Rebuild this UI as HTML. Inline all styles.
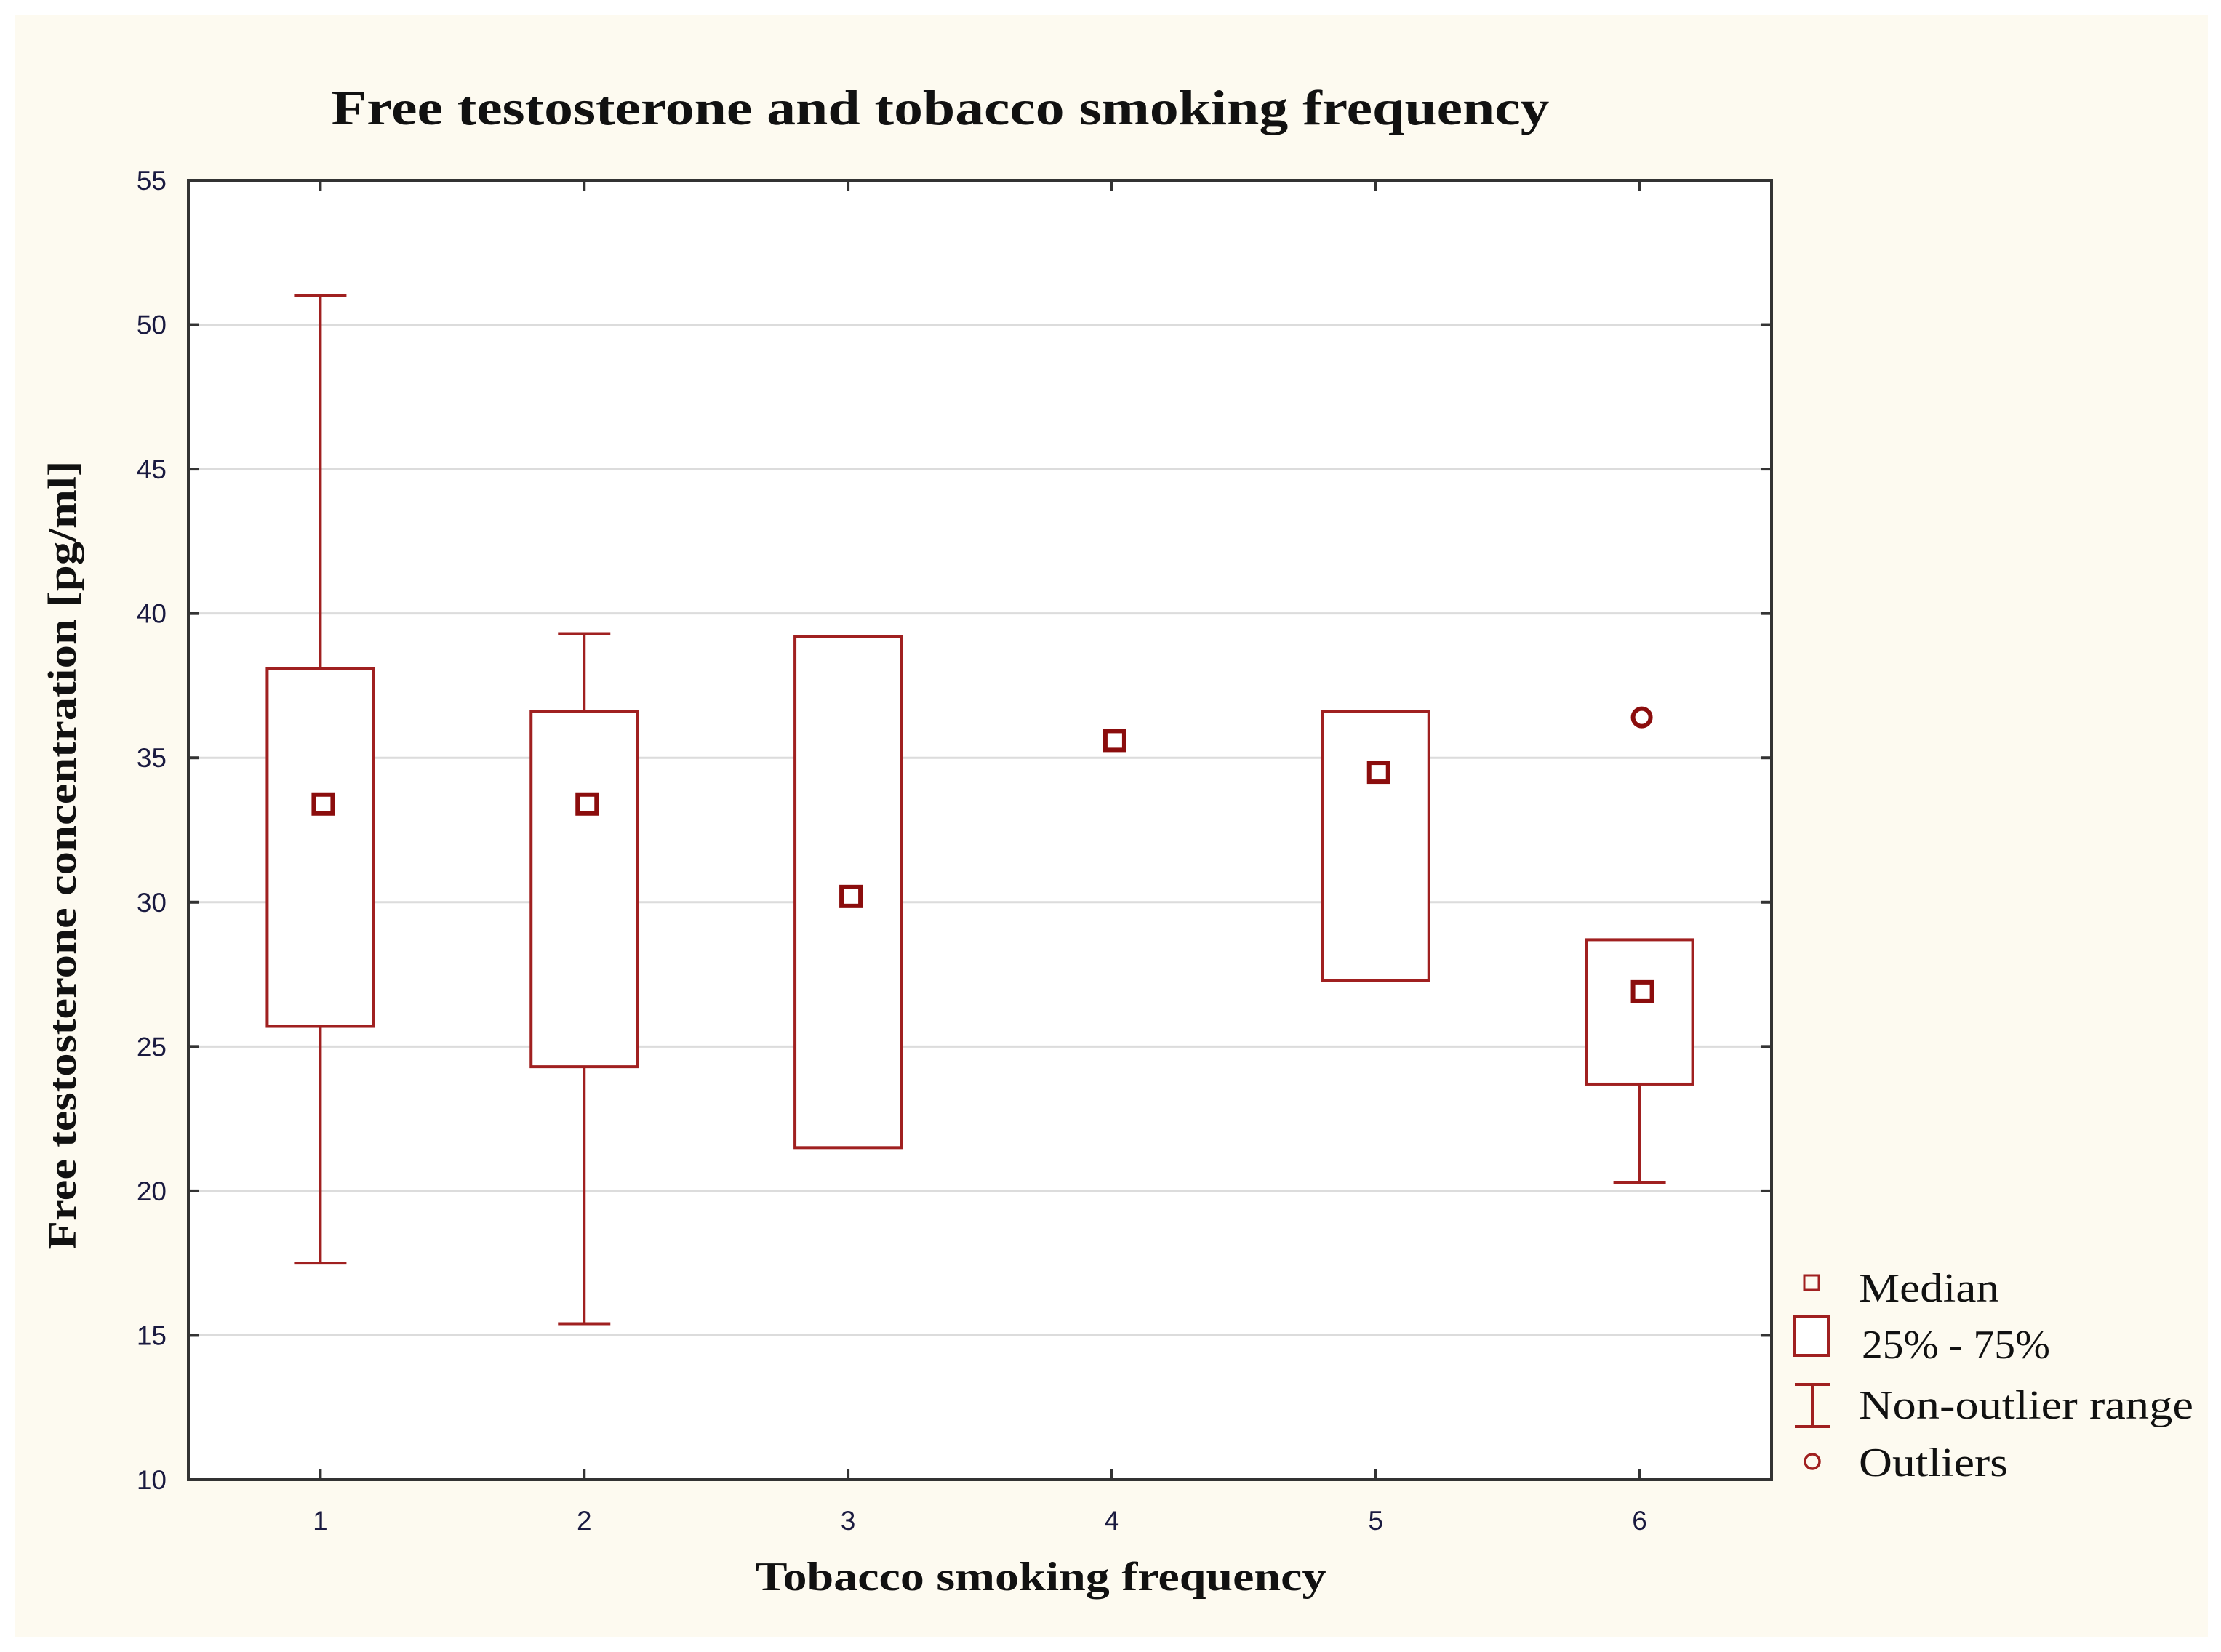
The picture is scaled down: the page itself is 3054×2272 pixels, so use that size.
<!DOCTYPE html>
<html><head><meta charset="utf-8"><style>
html,body{margin:0;padding:0;background:#fff;}
svg{display:block;}
</style></head><body>
<svg id="chart" width="3054" height="2272" viewBox="0 0 3054 2272" xmlns="http://www.w3.org/2000/svg">
<rect x="20" y="20" width="3016" height="2232" fill="#fdfaf0"/>
<rect x="259" y="248" width="2177" height="1787" fill="#ffffff"/>
<g id="grid"></g>
<g id="marks"></g>
<rect x="259" y="248" width="2177" height="1787" fill="none" stroke="#333" stroke-width="4"/>
<g id="ticks"></g>
<text x="1293" y="171" text-anchor="middle" textLength="1675" lengthAdjust="spacingAndGlyphs" font-family="Liberation Serif, serif" font-weight="bold" font-size="68" fill="#111">Free testosterone and tobacco smoking frequency</text>
<text x="1431" y="2187" text-anchor="middle" textLength="785" lengthAdjust="spacingAndGlyphs" font-family="Liberation Serif, serif" font-weight="bold" font-size="56" fill="#111">Tobacco smoking frequency</text>
<text transform="translate(104,1176) rotate(-90)" text-anchor="middle" textLength="1085" lengthAdjust="spacingAndGlyphs" font-family="Liberation Serif, serif" font-weight="bold" font-size="55" fill="#111">Free testosterone concentration [pg/ml]</text>
<g font-family="Liberation Serif, serif" font-size="56" fill="#111">
  <g>
    <rect x="2481" y="1754" width="20" height="20" fill="none" stroke="#a02020" stroke-width="3"/>
    <text x="2556" y="1790" textLength="193" lengthAdjust="spacingAndGlyphs">Median</text>
  </g>
  <g>
    <rect x="2468" y="1810" width="46" height="54" fill="#fff" stroke="#a02020" stroke-width="4"/>
    <text x="2560" y="1868" textLength="259" lengthAdjust="spacingAndGlyphs">25% - 75%</text>
  </g>
  <g>
    <path d="M2468 1904 H2516 M2492 1904 V1962 M2468 1962 H2516" stroke="#a02020" stroke-width="4" fill="none"/>
    <text x="2556" y="1951" textLength="460" lengthAdjust="spacingAndGlyphs">Non-outlier range</text>
  </g>
  <g>
    <circle cx="2492" cy="2010" r="10" fill="none" stroke="#a02020" stroke-width="3.5"/>
    <text x="2556" y="2030" textLength="205" lengthAdjust="spacingAndGlyphs">Outliers</text>
  </g>
</g>
</svg>
<script>
const categories = ["1","2","3","4","5","6"];
const whiskerHigh = [51.0, 39.3, null, null, null, null];
const q3Values = [38.1, 36.6, 39.2, null, 36.6, 28.7];
const medians = [33.4, 33.4, 30.2, 35.6, 34.5, 26.9];
const q1Values = [25.7, 24.3, 21.5, null, 27.3, 23.7];
const whiskerLow = [17.5, 15.4, null, null, null, 20.3];
const outliers = [null, null, null, null, null, 36.4];
const yTicks = [10,15,20,25,30,35,40,45,50,55];

const NS = "http://www.w3.org/2000/svg";
const L=259,R=2436,T=248,B=2035;
const yMin=10,yMax=55;
function yScale(v){return B-(v-yMin)/(yMax-yMin)*(B-T);}
function xScale(i){return L+(i+0.5)*(R-L)/categories.length;}
function mk(tag,attrs,parent){const e=document.createElementNS(NS,tag);for(const k in attrs)e.setAttribute(k,attrs[k]);parent.appendChild(e);return e;}
const grid=document.getElementById('grid'),marks=document.getElementById('marks'),ticks=document.getElementById('ticks');
const red="#a02020", dark="#8b0d0d";
yTicks.forEach(v=>{
  const y=yScale(v);
  if(v>yMin&&v<yMax){const g=mk('line',{x1:L,x2:R,y1:y,y2:y,stroke:'#dcdcdc','stroke-width':3},grid);
  
  }
  const t1=mk('line',{x1:L,x2:L+14,y1:y,y2:y,stroke:'#333','stroke-width':4},ticks);
  
  
  mk('line',{x1:R-14,x2:R,y1:y,y2:y,stroke:'#333','stroke-width':4},ticks);
  const tx=mk('text',{x:229,y:y+13,'text-anchor':'end','font-family':'Liberation Sans, sans-serif','font-size':37,fill:'#1a1a40'},ticks);
  tx.textContent=v;
  
  
});
categories.forEach((c,i)=>{
  const x=xScale(i);
  mk('line',{x1:x,x2:x,y1:B-14,y2:B,stroke:'#333','stroke-width':4},ticks);
  mk('line',{x1:x,x2:x,y1:T,y2:T+14,stroke:'#333','stroke-width':4},ticks);
  const tx=mk('text',{x:x,y:2104,'text-anchor':'middle','font-family':'Liberation Sans, sans-serif','font-size':37,fill:'#1a1a40'},ticks);
  tx.textContent=c;
  
  
  const g=mk('g',{},marks);
  
  
  const hw=73, cw=36;
  if(whiskerHigh[i]!=null&&q3Values[i]!=null){
    const w=mk('path',{d:`M${x} ${yScale(q3Values[i])} V${yScale(whiskerHigh[i])} M${x-cw} ${yScale(whiskerHigh[i])} H${x+cw}`,stroke:red,'stroke-width':4,fill:'none'},g);
    
    
  }
  if(whiskerLow[i]!=null&&q1Values[i]!=null){
    const w=mk('path',{d:`M${x} ${yScale(q1Values[i])} V${yScale(whiskerLow[i])} M${x-cw} ${yScale(whiskerLow[i])} H${x+cw}`,stroke:red,'stroke-width':4,fill:'none'},g);
    
    
  }
  if(q3Values[i]!=null&&q1Values[i]!=null){
    const b=mk('rect',{x:x-hw,y:yScale(q3Values[i]),width:hw*2,height:yScale(q1Values[i])-yScale(q3Values[i]),fill:'#fff',stroke:red,'stroke-width':4},g);
    
    
  }
  if(medians[i]!=null){
    const m=mk('rect',{x:x+4-13,y:yScale(medians[i])-13,width:26,height:26,fill:'none',stroke:dark,'stroke-width':6},g);
    
    
  }
  if(outliers[i]!=null){
    const o=mk('circle',{cx:x+3,cy:yScale(outliers[i]),r:12,fill:'none',stroke:dark,'stroke-width':6},g);
    
    
  }
});
</script>
</body></html>
